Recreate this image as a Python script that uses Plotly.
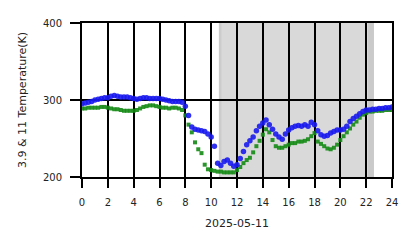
import plotly.graph_objects as go

hours = [i * 0.25 for i in range(97)]

t39 = [295, 296, 297, 298, 300, 301, 302, 303, 303, 305, 306, 305, 304, 304, 304, 303,
       302, 301, 302, 303, 303, 302, 302, 302, 302, 301, 300, 299, 298, 298, 298, 297,
       292, 280, 265, 262, 261, 260, 259, 256, 252, 240, 218, 215, 220, 222, 218, 214,
       216, 224, 233, 242, 247, 252, 260, 266, 270, 274, 268, 262, 256, 252, 249, 256,
       261, 264, 266, 267, 266, 268, 266, 271, 268, 260, 255, 253, 254, 257, 259, 261,
       261, 262, 266, 272, 276, 279, 282, 285, 287, 287, 288, 288, 289, 289, 290, 290, 291]

t11 = [289, 289, 290, 290, 290, 290, 291, 291, 290, 289, 288, 288, 287, 286, 286, 286,
       286, 287, 289, 291, 292, 293, 293, 292, 291, 290, 290, 289, 290, 290, 289, 287,
       280, 268, 258, 245, 236, 231, 216, 210, 209, 208, 207, 207, 206, 206, 206, 206,
       209, 213, 218, 222, 225, 232, 240, 247, 255, 262, 258, 248, 240, 238, 238, 240,
       242, 244, 244, 246, 246, 247, 249, 253, 257, 246, 243, 240, 237, 236, 238, 242,
       248, 253, 258, 263, 268, 272, 277, 281, 283, 285, 285, 286, 286, 286, 287, 287, 287]

shade_start = 10.6
shade_end = 22.6
shade_edge = 22.15

x_ticks = list(range(0, 25, 2))
y_ticks = [200, 300, 400]

fig = go.Figure()
fig.add_trace(go.Scatter(x=hours, y=t11, mode="markers", name="11",
                         marker=dict(symbol="square", size=4, color="#138a13", opacity=0.9)))
fig.add_trace(go.Scatter(x=hours, y=t39, mode="markers", name="3.9",
                         marker=dict(symbol="circle", size=5.5, color="#1a1aee", opacity=0.9)))

fig.add_vrect(x0=shade_start, x1=shade_end, fillcolor="#d9d9d9", opacity=1,
              line_width=0, layer="below")
fig.add_vrect(x0=shade_edge, x1=shade_end, fillcolor="#cacaca", opacity=1,
              line_width=0, layer="below")
fig.add_vrect(x0=shade_start, x1=shade_start + 0.2, fillcolor="#cccccc", opacity=1,
              line_width=0, layer="below")

tick_font = dict(family="DejaVu Sans", size=10, color="#222")
title_font = dict(family="DejaVu Sans", size=11, color="#222")
fig.update_layout(
    width=418, height=248,
    margin=dict(l=82, r=26, t=23, b=71),
    paper_bgcolor="white", plot_bgcolor="white",
    showlegend=False,
    font=tick_font,
    xaxis=dict(range=[0, 24], tickvals=x_ticks, ticktext=[str(v) for v in x_ticks],
               showgrid=True, gridcolor="black", gridwidth=2, zeroline=False,
               showline=True, mirror=True, linecolor="black", linewidth=2,
               ticks="outside", ticklen=9, tickwidth=2, tickcolor="black",
               ticklabelstandoff=6, tickfont=tick_font,
               title=dict(text="2025-05-11", font=title_font, standoff=12)),
    yaxis=dict(range=[200, 400], tickvals=y_ticks, ticktext=[str(v) for v in y_ticks],
               showgrid=True, gridcolor="black", gridwidth=2, zeroline=False,
               showline=True, mirror=True, linecolor="black", linewidth=2,
               ticks="outside", ticklen=10, tickwidth=2, tickcolor="black",
               ticklabelstandoff=6, tickfont=tick_font,
               title=dict(text="3.9 & 11 Temperature(K)", font=title_font, standoff=14)),
)

fig.write_html("out.html")
